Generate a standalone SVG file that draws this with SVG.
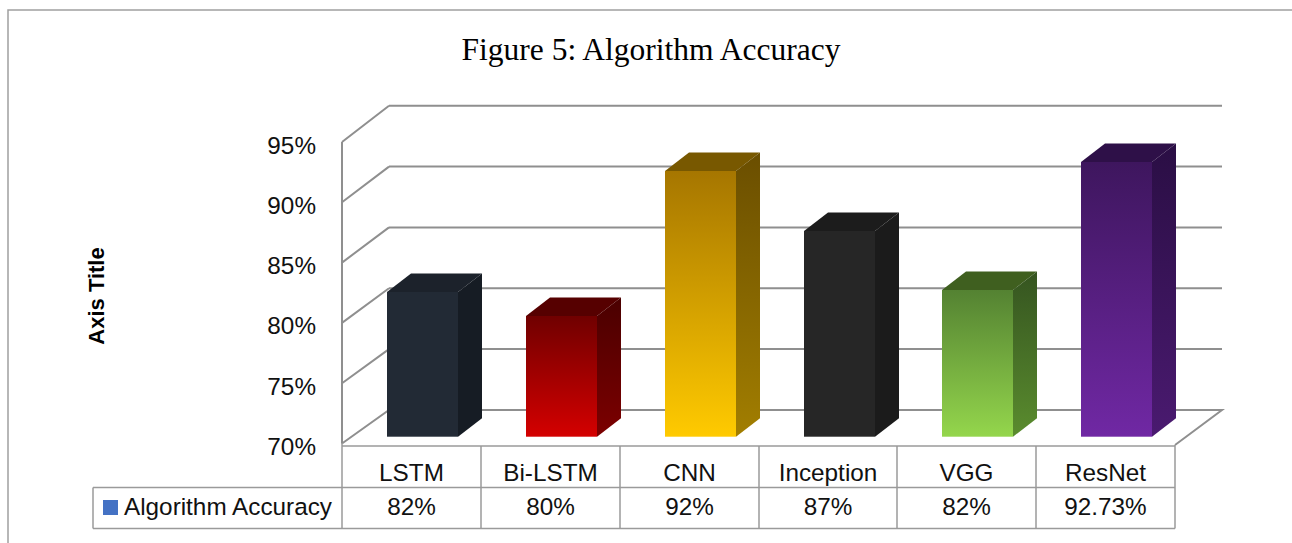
<svg xmlns="http://www.w3.org/2000/svg" width="1292" height="543" viewBox="0 0 1292 543">
<defs>
<style>
.grid{stroke:#8f8f8f;stroke-width:2;fill:none}
.frame{stroke:#a0a0a0;stroke-width:1.5;fill:none}
.tbl{stroke:#9a9a9a;stroke-width:1.5;fill:none}
.lbl{font-family:"Liberation Sans",Arial,sans-serif;font-size:24.3px;fill:#111}
.ctr{text-anchor:middle}
.ytk{text-anchor:end}
.title{font-family:"Liberation Serif","Times New Roman",serif;font-size:31.5px;fill:#000;text-anchor:middle}
.axt{font-family:"Liberation Sans",Arial,sans-serif;font-size:22px;font-weight:bold;fill:#000;text-anchor:middle}
</style>
<linearGradient id="gRed" x1="0" y1="0" x2="0" y2="1"><stop offset="0" stop-color="#700000"/><stop offset="1" stop-color="#d40000"/></linearGradient>
<linearGradient id="gRedS" x1="0" y1="0" x2="0" y2="1"><stop offset="0" stop-color="#4a0000"/><stop offset="1" stop-color="#7c0000"/></linearGradient>
<linearGradient id="gGold" x1="0" y1="0" x2="0" y2="1"><stop offset="0" stop-color="#a67600"/><stop offset="1" stop-color="#ffca00"/></linearGradient>
<linearGradient id="gGoldS" x1="0" y1="0" x2="0" y2="1"><stop offset="0" stop-color="#6a4e00"/><stop offset="1" stop-color="#a27e00"/></linearGradient>
<linearGradient id="gGreen" x1="0" y1="0" x2="0" y2="1"><stop offset="0" stop-color="#548232"/><stop offset="1" stop-color="#94d64c"/></linearGradient>
<linearGradient id="gGreenS" x1="0" y1="0" x2="0" y2="1"><stop offset="0" stop-color="#355420"/><stop offset="1" stop-color="#5a8c2e"/></linearGradient>
<linearGradient id="gPurple" x1="0" y1="0" x2="0" y2="1"><stop offset="0" stop-color="#3e165e"/><stop offset="1" stop-color="#7028a4"/></linearGradient>
<linearGradient id="gPurpleS" x1="0" y1="0" x2="0" y2="1"><stop offset="0" stop-color="#2a0e44"/><stop offset="1" stop-color="#4a1a70"/></linearGradient>
</defs>
<rect width="1292" height="543" fill="#fff"/>
<g id="frame">
<path class="frame" d="M8,543 V10 H1292"/>
</g>
<text class="title" x="651" y="60">Figure 5: Algorithm Accuracy</text>
<text class="axt" transform="translate(104,296) rotate(-90)">Axis Title</text>
<g id="axes">
<path class="grid" d="M389,105.7 H1222 M389,166.6 H1222 M389,227.4 H1222 M389,288.3 H1222 M389,349.1 H1222"/>
<path class="grid" d="M342,142 V443.5 M342,142 L389,105.7 M342,202.3 L389,166.6 M342,262.6 L389,227.4 M342,322.9 L389,288.3 M342,383.2 L389,349.1"/>
<path class="grid" d="M342,443.5 L389,410 H1222 L1175,445"/>
</g>
<g id="ylabels">
<text class="lbl ytk" x="316" y="153.5">95%</text>
<text class="lbl ytk" x="316" y="213.8">90%</text>
<text class="lbl ytk" x="316" y="274.1">85%</text>
<text class="lbl ytk" x="316" y="334.4">80%</text>
<text class="lbl ytk" x="316" y="394.7">75%</text>
<text class="lbl ytk" x="316" y="455">70%</text>
</g>
<g id="bar-lstm">
<polygon points="387,292 411,273.5 482,273.5 458,292" fill="#1c222b"/>
<polygon points="458,292 482,273.5 482,418.2 458,436.7" fill="#161c24"/>
<rect x="387" y="292" width="71" height="144.7" fill="#222a35"/>
</g>
<g id="bar-bilstm">
<polygon points="526,316 550,297.5 621,297.5 597,316" fill="#560000"/>
<polygon points="597,316 621,297.5 621,418.2 597,436.7" fill="url(#gRedS)"/>
<rect x="526" y="316" width="71" height="120.7" fill="url(#gRed)"/>
</g>
<g id="bar-cnn">
<polygon points="665,171 689,152.5 760,152.5 736,171" fill="#785800"/>
<polygon points="736,171 760,152.5 760,418.2 736,436.7" fill="url(#gGoldS)"/>
<rect x="665" y="171" width="71" height="265.7" fill="url(#gGold)"/>
</g>
<g id="bar-inception">
<polygon points="804,231 828,212.5 899,212.5 875,231" fill="#1c1c1c"/>
<polygon points="875,231 899,212.5 899,418.2 875,436.7" fill="#1b1b1b"/>
<rect x="804" y="231" width="71" height="205.7" fill="#262626"/>
</g>
<g id="bar-vgg">
<polygon points="942,290 966,271.5 1037,271.5 1013,290" fill="#3f5f1f"/>
<polygon points="1013,290 1037,271.5 1037,418.2 1013,436.7" fill="url(#gGreenS)"/>
<rect x="942" y="290" width="71" height="146.7" fill="url(#gGreen)"/>
</g>
<g id="bar-resnet">
<polygon points="1081,162 1105,143.5 1176,143.5 1152,162" fill="#2e1048"/>
<polygon points="1152,162 1176,143.5 1176,418.2 1152,436.7" fill="url(#gPurpleS)"/>
<rect x="1081" y="162" width="71" height="274.7" fill="url(#gPurple)"/>
</g>
<g id="table">
<path class="tbl" d="M342,446 H1175 M93,487.5 H1175 M93,528.5 H1175 M93,487.5 V528.5 M342,443 V528.5 M481,446 V528.5 M620,446 V528.5 M759,446 V528.5 M897,446 V528.5 M1036,446 V528.5 M1175,445 V528.5"/>
<rect x="103" y="500" width="15" height="15" fill="#4472c4"/>
<text class="lbl" x="124" y="515">Algorithm Accuracy</text>
<text class="lbl ctr" x="411.5" y="481">LSTM</text>
<text class="lbl ctr" x="550.5" y="481">Bi-LSTM</text>
<text class="lbl ctr" x="689.5" y="481">CNN</text>
<text class="lbl ctr" x="828" y="481">Inception</text>
<text class="lbl ctr" x="966.5" y="481">VGG</text>
<text class="lbl ctr" x="1105.5" y="481">ResNet</text>
<text class="lbl ctr" x="411.5" y="515">82%</text>
<text class="lbl ctr" x="550.5" y="515">80%</text>
<text class="lbl ctr" x="689.5" y="515">92%</text>
<text class="lbl ctr" x="828" y="515">87%</text>
<text class="lbl ctr" x="966.5" y="515">82%</text>
<text class="lbl ctr" x="1105.5" y="515">92.73%</text>
</g>
</svg>
